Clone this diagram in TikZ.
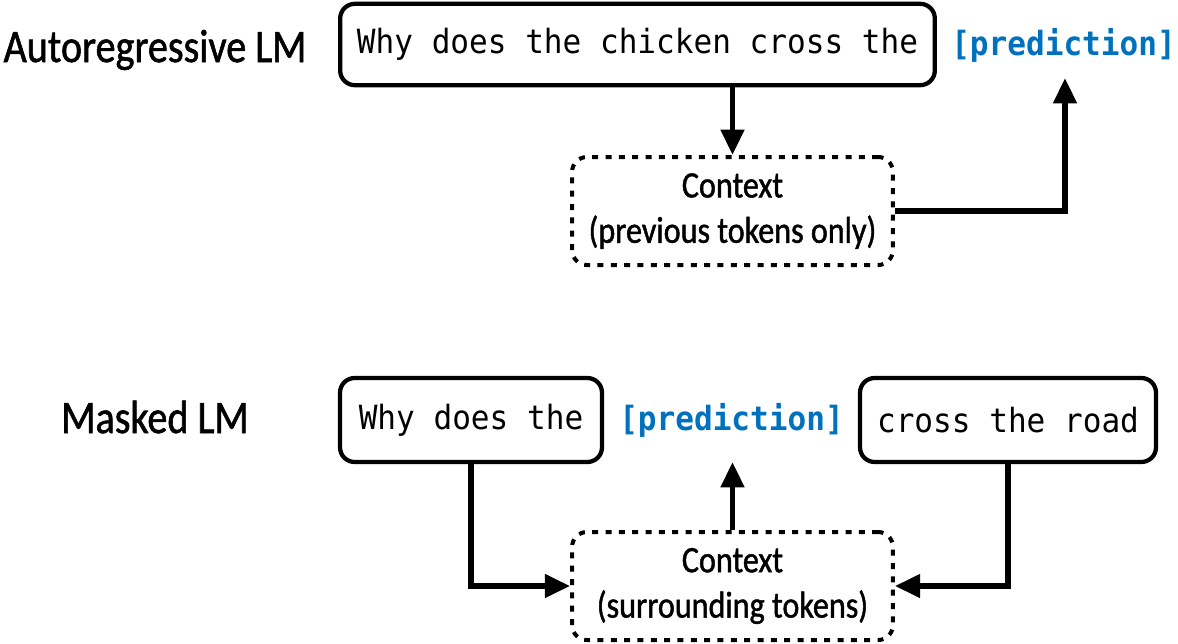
\documentclass[tikz,border=0pt]{standalone}
\usepackage{fontspec}
\setmainfont{Carlito}[FakeStretch=0.86, FakeBold=1.2]
\setmonofont{DejaVu Sans Mono}[FakeStretch=0.932]
\usetikzlibrary{arrows.meta}
\definecolor{predblue}{RGB}{0,113,188}
\tikzset{
  tokbox/.style={draw, line width=3.2pt, rounded corners=11pt, inner sep=0pt, font=\fontsize{25}{30}\ttfamily},
  ctxbox/.style={draw, line width=3pt, rounded corners=11pt, dash pattern=on 4.5pt off 5.5pt, inner sep=0pt, align=center, font=\fontsize{28}{34}\selectfont},
  predtxt/.style={inner sep=0pt, text=predblue, font=\fontsize{25}{30}\ttfamily\bfseries},
  lbl/.style={inner sep=0pt, font=\fontsize{35}{40}\selectfont},
  arr/.style={line width=4.2pt, -{Triangle[length=19pt,width=17pt]}}
}
\begin{document}
\begin{tikzpicture}[x=0.75pt,y=-0.75pt]
\useasboundingbox (0,0) rectangle (1178,643);
% Autoregressive
\node[lbl] (lab1) at (155,50) {Autoregressive LM};
\node[tokbox, minimum width=446pt, minimum height=61pt] (top) at (637.5,44.5) {Why does the chicken cross the};
\node[predtxt] (pred1) at (1063.5,45) {[prediction]};
\node[ctxbox, minimum width=240.5pt, minimum height=81pt] (ctx1) at (732.5,211) {Context\\(previous tokens only)};
\coordinate (p1tip) at (1065,78);
\draw[arr] (top.south -| ctx1.north) -- (ctx1.north);
\draw[arr] (ctx1.east) -| (p1tip);
% Masked
\node[lbl] (lab2) at (155,417) {Masked LM};
\node[tokbox, minimum width=196.5pt, minimum height=63pt] (boxL) at (471,420) {Why does the};
\node[predtxt] (pred2) at (731.5,420) {[prediction]};
\node[tokbox, minimum width=222pt, minimum height=63pt] (boxR) at (1008,420) {cross the road};
\node[ctxbox, minimum width=240.5pt, minimum height=81pt] (ctx2) at (732.5,586) {Context\\(surrounding tokens)};
\coordinate (p2tip) at (732.5,462);
\draw[arr] (boxL.south) |- (ctx2.west);
\draw[arr] (boxR.south) |- (ctx2.east);
\draw[arr] (ctx2.north) -- (p2tip);
\end{tikzpicture}
\end{document}
